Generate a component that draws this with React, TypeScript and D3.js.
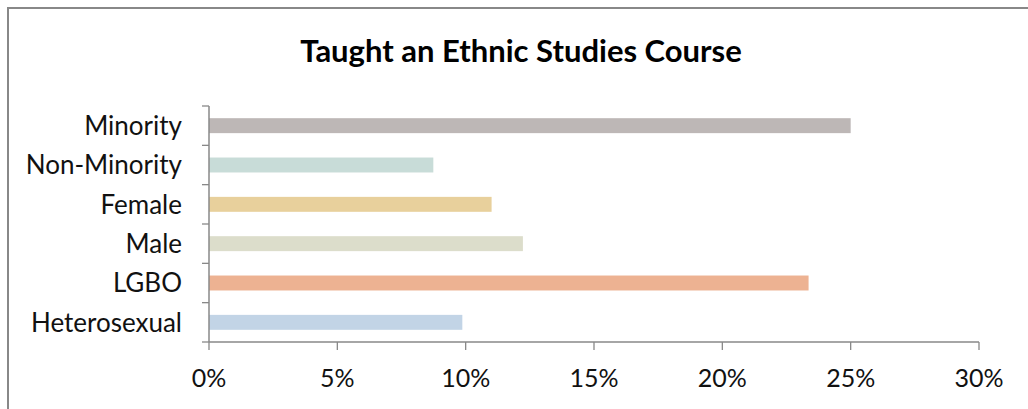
import React from "react";
import * as d3 from "d3";

const categories = ["Minority", "Non-Minority", "Female", "Male", "LGBO", "Heterosexual"];
const values = [0.25, 0.0874, 0.1101, 0.1223, 0.2336, 0.0987];
const colors = ["#BDB7B6", "#C8DCD8", "#E8D09C", "#DCDDCB", "#EDB292", "#C2D4E6"];
const xTicks = [0, 0.05, 0.1, 0.15, 0.2, 0.25, 0.3];
const title = "Taught an Ethnic Studies Course";

export default function App() {
  const W = 1028, H = 409;
  const x = d3.scaleLinear().domain([0, 0.3]).range([209, 979]);
  const y = d3.scaleBand().domain(categories).range([106, 342]).paddingInner(0.62).paddingOuter(0.31);
  const step = y.step();
  const font = "Lato, 'Open Sans', sans-serif";
  const fmt = d3.format(".0%");
  return (
    <svg width={W} height={H} style={{ position: "absolute", left: 0, top: 0 }}>
      <rect x={0} y={0} width={W} height={H} fill="#fff" />
      <rect x={8} y={8} width={W + 20} height={H + 20} fill="none" stroke="#888" strokeWidth={2} />
      <text x={521} y={62} textAnchor="middle" fontFamily={font} fontWeight="bold" fontSize={31} fill="#000">{title}</text>
      {categories.map((c, i) => (
        <g key={c}>
          <rect x={x(0)} y={y(c)!} width={x(values[i]) - x(0)} height={y.bandwidth()} fill={colors[i]} />
          <text x={182} y={y(c)! + y.bandwidth() / 2} dy="0.36em" textAnchor="end" fontFamily={font} fontSize={26} fill="#111">{c}</text>
        </g>
      ))}
      {d3.range(categories.length + 1).map((i) => (
        <line key={"yt" + i} x1={202} x2={209} y1={106 + i * step} y2={106 + i * step} stroke="#888" strokeWidth={1.3} />
      ))}
      <line x1={209} x2={209} y1={106} y2={342} stroke="#888" strokeWidth={1.5} />
      <line x1={209} x2={979} y1={342} y2={342} stroke="#888" strokeWidth={1.5} />
      {xTicks.map((t) => (
        <g key={"xt" + t}>
          <line x1={x(t)} x2={x(t)} y1={342} y2={350} stroke="#888" strokeWidth={1.3} />
          <text x={x(t)} y={387} textAnchor="middle" fontFamily={font} fontSize={25} fill="#111">{fmt(t)}</text>
        </g>
      ))}
    </svg>
  );
}
